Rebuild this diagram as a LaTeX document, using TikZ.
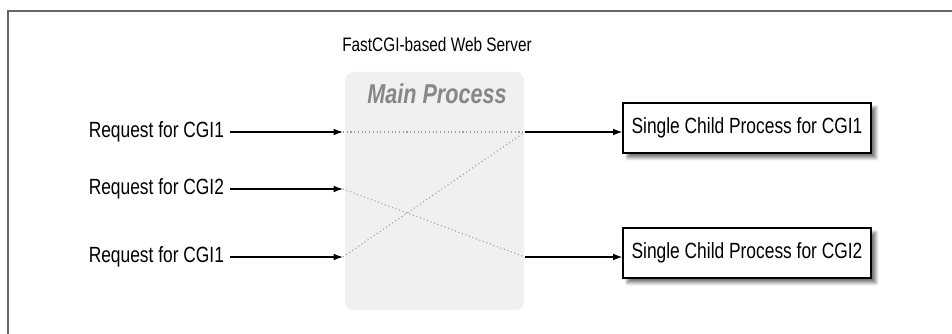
\documentclass[tikz,border=0pt]{standalone}
\usepackage{fontspec}
\setmainfont{Liberation Sans}[FakeStretch=0.79]
\usetikzlibrary{positioning,arrows.meta,shadows.blur}

\tikzset{
	request/.style={inner sep=0pt, outer xsep=4.5pt, anchor=east},
	child/.style={draw, line width=0.9pt, fill=white, inner sep=0pt,
		minimum width=186pt, minimum height=37.5pt,
		blur shadow={shadow xshift=3.5pt, shadow yshift=-3.5pt, shadow blur radius=2.5pt, shadow blur steps=6, shadow opacity=55}},
	feed/.style={-{Latex[length=7pt,width=5pt]}, line width=0.9pt},
	hop/.style={dotted, gray!75, line width=0.8pt},
}

\begin{document}
\begin{tikzpicture}[x=0.75pt, y=-0.75pt, font=\fontsize{16.5}{18}\selectfont]
	\useasboundingbox (0,0) rectangle (952,334);
	\draw[line width=1.5pt, black!60] (8,334) -- (8,11) -- (952,11);
	
	% the web server and its main process
	\node[fill=black!6, rounded corners=6pt, minimum width=134pt, minimum height=178.5pt] (main) at (434.5,191) {};
	\node[font=\fontsize{14.6}{16}\selectfont] (server) at (437,45) {FastCGI-based Web Server};
	\node[font=\fontsize{20.5}{22}\selectfont\bfseries\itshape, text=black!47] (mainp) at (437,94) {Main Process};
	
	\coordinate (i1) at (343,132);
	\coordinate (i2) at (343,189);
	\coordinate (i3) at (343,257);
	\coordinate (o1) at (525,132);
	\coordinate (o2) at (525,257);
	
	% incoming requests
	\node[request] (r1) at (230,132) {Request for CGI1};
	\node[request] (r2) at (230,189) {Request for CGI2};
	\node[request] (r3) at (230,257) {Request for CGI1};
	
	% child processes
	\node[child] (c1) at (747,128) {Single Child Process for CGI1};
	\node[child] (c2) at (747,253) {Single Child Process for CGI2};
	
	\draw[feed] (r1) -- (i1);
	\draw[feed] (r2) -- (i2);
	\draw[feed] (r3) -- (i3);
	
	\draw[hop] (i1) -- (o1);
	\draw[hop] (i2) -- (o2);
	\draw[hop] (i3) -- (o1);
	
	\draw[feed] (o1) -- (o1 -| c1.west);
	\draw[feed] (o2) -- (o2 -| c2.west);
\end{tikzpicture}
\end{document}
